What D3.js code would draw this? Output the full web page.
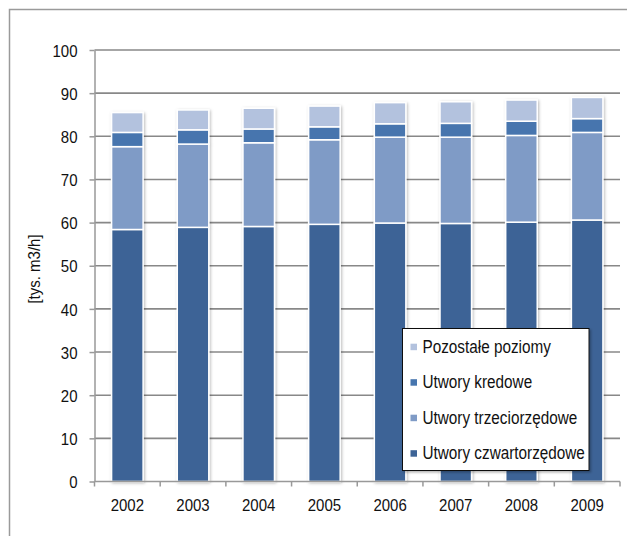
<!DOCTYPE html>
<html><head><meta charset="utf-8">
<script src="https://cdn.jsdelivr.net/npm/d3@7"></script>
<style>
html,body{margin:0;padding:0;background:#fff;}
text{font-family:"Liberation Sans",Arial,sans-serif;fill:#111;}
</style></head>
<body><div id="chart"></div>
<script>
const years = ["2002","2003","2004","2005","2006","2007","2008","2009"];
const czwartorzedowe = [58.4, 58.9, 59.1, 59.6, 59.9, 59.8, 60.1, 60.6];
const trzeciorzedowe = [19.2, 19.3, 19.4, 19.6, 19.9, 20.0, 20.1, 20.3];
const kredowe = [3.3, 3.3, 3.2, 3.0, 3.1, 3.2, 3.3, 3.2];
const pozostale = [4.6, 4.6, 4.8, 4.8, 4.9, 5.0, 4.9, 4.9];
const seriesNames = ["Utwory czwartorzędowe","Utwory trzeciorzędowe","Utwory kredowe","Pozostałe poziomy"];
const seriesColors = ["#3d6496","#7f9bc6","#4675ae","#b3c2de"];
const yTicks = [0,10,20,30,40,50,60,70,80,90,100];
const yTitle = "[tys. m3/h]";

const W = 627, H = 536;
const svg = d3.select("#chart").append("svg").attr("width", W).attr("height", H);
svg.append("rect").attr("width", W).attr("height", H).attr("fill", "#fff");

const defs = svg.append("defs");
const f = defs.append("filter").attr("id","sh").attr("x","-30%").attr("y","-10%").attr("width","160%").attr("height","120%");
f.append("feDropShadow").attr("dx",1).attr("dy",1).attr("stdDeviation",1.6).attr("flood-color","#000").attr("flood-opacity",0.28);
const f2 = defs.append("filter").attr("id","sh2").attr("x","-10%").attr("y","-10%").attr("width","120%").attr("height","120%");
f2.append("feDropShadow").attr("dx",1.5).attr("dy",1.5).attr("stdDeviation",1).attr("flood-color","#000").attr("flood-opacity",0.3);

// outer frame
svg.append("rect").attr("x",9.5).attr("y",9.5).attr("width",700).attr("height",700)
  .attr("fill","none").attr("stroke","#9a9a9a").attr("stroke-width",1.5);

const x0 = 94.5, x1 = 620, yTop = 50, yBot = 481.5;
const x = d3.scaleBand().domain(years).range([x0, x1]).padding(0);
const y = d3.scaleLinear().domain([0,100]).range([yBot, yTop]);

// condensed-looking text: measure at base size, render taller with same width
function narrow(sel, base, big){
  sel.each(function(){
    const t = d3.select(this);
    t.attr("font-size", base+"px");
    const w = this.getComputedTextLength();
    t.attr("font-size", big+"px").attr("textLength", w).attr("lengthAdjust","spacingAndGlyphs");
  });
}

// gridlines
svg.append("g").selectAll("line").data(yTicks.filter(d=>d>0)).join("line")
  .attr("x1", x0).attr("x2", x1).attr("y1", d=>y(d)).attr("y2", d=>y(d))
  .attr("stroke","#888").attr("stroke-width",1.6);

// y axis
const ya = svg.append("g").attr("transform",`translate(${x0},0)`)
  .call(d3.axisLeft(y).tickValues(yTicks).tickSize(5).tickSizeOuter(0).tickPadding(12));
ya.attr("font-family",null).attr("font-size",null);
ya.select(".domain").attr("stroke","#999").attr("stroke-width",1.5);
ya.selectAll(".tick line").attr("stroke","#999").attr("stroke-width",1.5);
ya.selectAll("text").attr("fill","#111").attr("dy","0.36em");
narrow(ya.selectAll("text"), 15, 17);

// stacked data
const rows = years.map((yr,i)=>({year:yr, v:[czwartorzedowe[i], trzeciorzedowe[i], kredowe[i], pozostale[i]]}));
const barW = x.bandwidth()*0.48;
const bars = svg.append("g");
rows.forEach(r=>{
  const g = bars.append("g").attr("filter","url(#sh)");
  let acc = 0;
  r.v.forEach((val,k)=>{
    const lo = acc, hi = acc + val; acc = hi;
    g.append("rect")
      .attr("x", x(r.year) + x.bandwidth()/2 - barW/2)
      .attr("width", barW)
      .attr("y", y(hi)).attr("height", y(lo)-y(hi))
      .attr("fill", seriesColors[k]).attr("stroke","#fff").attr("stroke-width",1.5);
  });
});

// x axis
const xa = svg.append("g").attr("transform",`translate(0,${yBot})`);
xa.append("line").attr("x1",x0).attr("x2",x1).attr("stroke","#999").attr("stroke-width",1.5);
xa.selectAll("line.tk").data(years.concat(["__end"])).join("line").attr("class","tk")
  .attr("x1", d=> d==="__end" ? x1 : x(d)).attr("x2", d=> d==="__end" ? x1 : x(d))
  .attr("y1",0).attr("y2",5).attr("stroke","#999").attr("stroke-width",1.5);
const xl = xa.selectAll("text").data(years).join("text")
  .attr("x", d=>x(d)+x.bandwidth()/2).attr("y", 29)
  .attr("text-anchor","middle").text(d=>d);
narrow(xl, 15, 17);

// y title
const yt = svg.append("text").attr("transform","translate(40,269) rotate(-90)")
  .attr("text-anchor","middle").text(yTitle);
narrow(yt, 15, 17);

// legend
const lg = svg.append("g");
lg.append("rect").attr("x",402.5).attr("y",328.5).attr("width",186.5).attr("height",142)
  .attr("fill","#fff").attr("stroke","#111").attr("stroke-width",1).attr("filter","url(#sh2)");
const legOrder = [3,2,1,0];
legOrder.forEach((k,i)=>{
  const cy = 346.7 + i*35.5;
  lg.append("rect").attr("x",410.5).attr("y",cy-3).attr("width",6.5).attr("height",6.5).attr("fill",seriesColors[k]);
  const t = lg.append("text").attr("x",422.5).attr("y",cy+6).text(seriesNames[k]);
  narrow(t, 15.3, 17.5);
});
</script></body></html>
